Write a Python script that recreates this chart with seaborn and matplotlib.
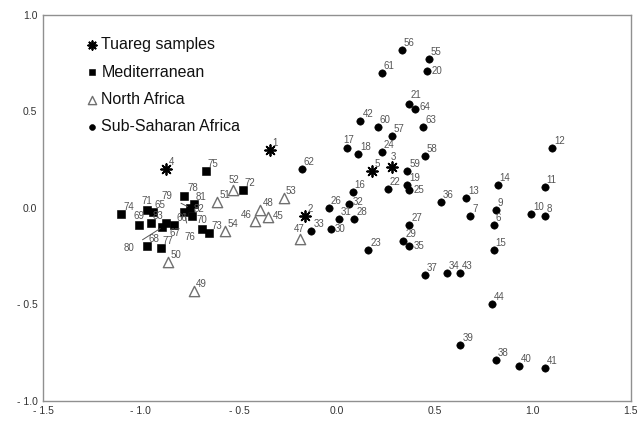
import numpy as np
import pandas as pd
import matplotlib
matplotlib.use('Agg')
import matplotlib.pyplot as plt
import seaborn as sns

# Tuareg samples
tuareg_id = [1, 2, 3, 4, 5]
tuareg_x = [-0.34, -0.16, 0.28, -0.87, 0.18]
tuareg_y = [0.30, -0.04, 0.21, 0.20, 0.19]

# Mediterranean
med_id = [65, 66, 67, 68, 69, 70, 71, 72, 73, 74, 75, 76, 77, 78, 79, 80, 81, 82, 83]
med_x = [-0.94, -0.83, -0.87, -0.97, -1.01, -0.69, -0.97, -0.48, -0.65, -1.10,
         -0.67, -0.78, -0.90, -0.78, -0.75, -0.89, -0.73, -0.74, -0.95]
med_y = [-0.02, -0.09, -0.08, -0.20, -0.09, -0.11, -0.01, 0.09, -0.13, -0.03,
         0.19, -0.02, -0.21, 0.06, 0.00, -0.10, 0.02, -0.04, -0.08]

# North Africa
naf_id = [45, 46, 47, 48, 49, 50, 51, 52, 53, 54]
naf_x = [-0.35, -0.42, -0.19, -0.39, -0.73, -0.86, -0.61, -0.53, -0.27, -0.57]
naf_y = [-0.05, -0.07, -0.16, -0.01, -0.43, -0.28, 0.03, 0.09, 0.05, -0.12]

# Sub-Saharan Africa
ssa_id = [6, 7, 8, 9, 10, 11, 12, 13, 14, 15, 16, 17, 18, 19, 20, 21, 22, 23, 24, 25,
          26, 27, 28, 29, 30, 31, 32, 33, 34, 35, 36, 37, 38, 39, 40, 41, 42, 43, 44,
          55, 56, 57, 58, 59, 60, 61, 62, 63, 64]
ssa_x = [0.80, 0.68, 1.06, 0.81, 0.99, 1.06, 1.10, 0.66, 0.82, 0.80, 0.08, 0.05, 0.11, 0.36, 0.46, 0.37, 0.26, 0.16, 0.23, 0.37,
         -0.04, 0.37, 0.09, 0.34, -0.03, 0.01, 0.06, -0.13, 0.56, 0.37, 0.53, 0.45, 0.81, 0.63, 0.93, 1.06, 0.12, 0.63, 0.79,
         0.47, 0.33, 0.28, 0.45, 0.36, 0.21, 0.23, -0.18, 0.44, 0.40]
ssa_y = [-0.09, -0.04, -0.04, -0.01, -0.03, 0.11, 0.31, 0.05, 0.12, -0.22, 0.08, 0.31, 0.28, 0.12, 0.71, 0.54, 0.10, -0.22, 0.29, 0.09,
         0.00, -0.09, -0.06, -0.17, -0.11, -0.06, 0.02, -0.12, -0.34, -0.20, 0.03, -0.35, -0.79, -0.71, -0.82, -0.83, 0.45, -0.34, -0.50,
         0.77, 0.82, 0.37, 0.27, 0.19, 0.42, 0.70, 0.20, 0.42, 0.51]

x_ticks = [-1.5, -1.0, -0.5, 0.0, 0.5, 1.0, 1.5]
x_labels = ['- 1.5', '- 1.0', '- 0.5', '0.0', '0.5', '1.0', '1.5']
y_ticks = [-1.0, -0.5, 0.0, 0.5, 1.0]
y_labels = ['- 1.0', '- 0.5', '0.0', '0.5', '1.0']

df = pd.concat([
    pd.DataFrame({'id': tuareg_id, 'x': tuareg_x, 'y': tuareg_y, 'group': 'Tuareg samples'}),
    pd.DataFrame({'id': med_id, 'x': med_x, 'y': med_y, 'group': 'Mediterranean'}),
    pd.DataFrame({'id': naf_id, 'x': naf_x, 'y': naf_y, 'group': 'North Africa'}),
    pd.DataFrame({'id': ssa_id, 'x': ssa_x, 'y': ssa_y, 'group': 'Sub-Saharan Africa'}),
], ignore_index=True)

sns.set_style('white')
plt.rcParams['font.family'] = ['Liberation Sans', 'DejaVu Sans']

fig = plt.figure(figsize=(6.41, 4.28), dpi=100)
ax = fig.add_axes([0.067, 0.064, 0.917, 0.901])

# draw each group with its own marker
sns.scatterplot(data=df[df.group == 'Sub-Saharan Africa'], x='x', y='y', ax=ax,
                marker='o', color='black', edgecolor='black', s=28, label='Sub-Saharan Africa', zorder=3)
sns.scatterplot(data=df[df.group == 'North Africa'], x='x', y='y', ax=ax,
                marker='^', color='white', edgecolor='#707070', linewidth=1.0, s=55, label='North Africa', zorder=3)
sns.scatterplot(data=df[df.group == 'Mediterranean'], x='x', y='y', ax=ax,
                marker='s', color='black', edgecolor='black', s=28, label='Mediterranean', zorder=3)
sns.scatterplot(data=df[df.group == 'Tuareg samples'], x='x', y='y', ax=ax,
                marker=(8, 2, 0), color='black', linewidth=1.3, s=60, label='Tuareg samples', zorder=4)

# point labels: default sits upper right of marker
special = {
    46: (-3, 3, 'right'), 47: (0, 7, 'center'), 3: (2, 7, 'center'), 70: (0, 6, 'center'),
    71: (0, 6, 'center'), 69: (0, 6, 'center'), 52: (1, 7, 'center'), 25: (4, -3, 'left'),
    35: (4, -3, 'left'), 30: (4, -3, 'left'), 20: (5, -3, 'left'), 32: (4, -1, 'left'),
    45: (5, -2, 'left'), 67: (3, -13, 'left'), 17: (2, 5, 'center'), 21: (1, 6, 'left'),
    64: (4, -1, 'left'), 78: (3, 5, 'left'),
}
leader = {79: (-0.865, 0.06), 80: (-1.06, -0.21), 76: (-0.75, -0.15)}
for _, r in df.iterrows():
    i = int(r['id'])
    if i in leader:
        tx, ty = leader[i]
        ax.annotate(str(i), (r.x, r.y), xytext=(tx, ty), fontsize=7, color='#555555',
                    ha='center', va='center',
                    arrowprops=dict(arrowstyle='-', color='#555555', lw=0.7, shrinkA=4, shrinkB=2))
        continue
    dx, dy, ha = special.get(i, (2, 4, 'left'))
    ax.annotate(str(i), (r.x, r.y), xytext=(dx, dy), textcoords='offset pixels',
                fontsize=7, color='#555555', ha=ha, va='baseline')

ax.set_xlim(-1.5, 1.5)
ax.set_ylim(-1.0, 1.0)
ax.set_xticks(x_ticks)
ax.set_xticklabels(x_labels)
ax.set_yticks(y_ticks)
ax.set_yticklabels(y_labels)
ax.tick_params(length=0, labelsize=7.5, colors='#333333', pad=4)
ax.set_xlabel('')
ax.set_ylabel('')
for s in ax.spines.values():
    s.set_color('#909090')
    s.set_linewidth(1.0)

h, l = ax.get_legend_handles_labels()
order = ['Tuareg samples', 'Mediterranean', 'North Africa', 'Sub-Saharan Africa']
hh = [h[l.index(o)] for o in order]
ax.legend(hh, order, loc='upper left', bbox_to_anchor=(0.045, 0.98), frameon=False,
          fontsize=11.5, handletextpad=0.1, labelspacing=0.78, markerscale=0.8, handlelength=1.0,
          labelcolor='#111111')

fig.savefig('out.png', dpi=100)
